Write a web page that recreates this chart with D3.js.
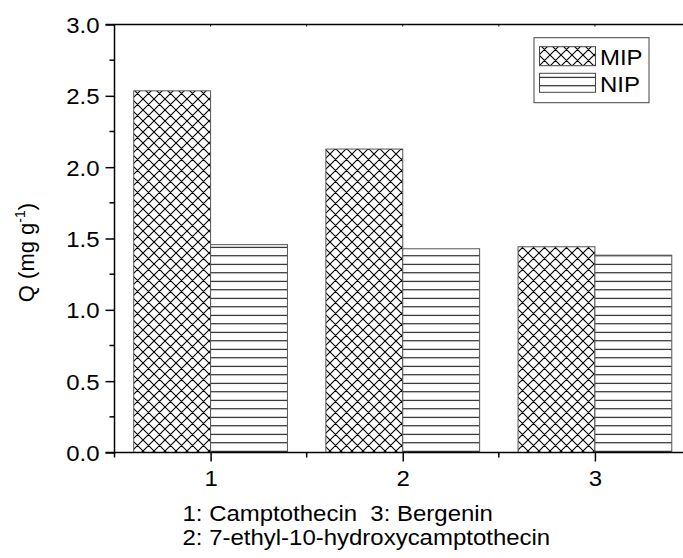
<!DOCTYPE html>
<html>
<head>
<meta charset="utf-8">
<script src="https://cdn.jsdelivr.net/npm/d3@7"></script>
<style>
  html, body { margin: 0; padding: 0; background: #fff; }
  svg { display: block; }
  text { font-family: "Liberation Sans", Arial, sans-serif; fill: #000; white-space: pre; }
</style>
</head>
<body>
<svg id="chart" width="683" height="558"></svg>
<script>
// ---- data ----
const categories = [1, 2, 3];
const seriesNames = ["MIP", "NIP"];
const mipValues = [2.535, 2.127, 1.442];
const nipValues = [1.457, 1.428, 1.383];
const yTickValues = [0.0, 0.5, 1.0, 1.5, 2.0, 2.5, 3.0];
const yTickLabels = ["0.0", "0.5", "1.0", "1.5", "2.0", "2.5", "3.0"];
const xTickLabels = ["1", "2", "3"];
const footnotes = ["1: Camptothecin  3: Bergenin", "2: 7-ethyl-10-hydroxycamptothecin"];

// ---- layout ----
const W = 683, H = 558;
const svg = d3.select("#chart");
const x = d3.scaleLinear().domain([0.5, 3.5]).range([114.5, 691]);
const y = d3.scaleLinear().domain([0, 3]).range([452.5, 24.5]);
const barW = 0.4;
const FS = 22, SX = 1.09;

// patterns
const defs = svg.append("defs");
const cross = defs.append("pattern").attr("id", "cross")
  .attr("patternUnits", "userSpaceOnUse").attr("width", 11).attr("height", 11);
cross.append("rect").attr("width", 11).attr("height", 11).attr("fill", "#fff");
cross.append("path").attr("d", "M0,0L11,11M11,0L0,11M-1,10L1,12M10,-1L12,1M-1,1L1,-1M10,12L12,10")
  .attr("stroke", "#000").attr("stroke-width", 1.1).attr("fill", "none");
const horiz = defs.append("pattern").attr("id", "horiz")
  .attr("patternUnits", "userSpaceOnUse").attr("width", 20).attr("height", 8.5)
  .attr("y", 0.3);
horiz.append("rect").attr("width", 20).attr("height", 8.5).attr("fill", "#fff");
horiz.append("line").attr("x1", 0).attr("x2", 20).attr("y1", 0.5).attr("y2", 0.5)
  .attr("stroke", "#000").attr("stroke-width", 1);
const fills = { MIP: "url(#cross)", NIP: "url(#horiz)" };

function stretchedText(g, px, py, str, anchor) {
  return g.append("text")
    .attr("transform", `translate(${px},${py}) scale(${SX},1)`)
    .attr("text-anchor", anchor || "start")
    .attr("xml:space", "preserve")
    .style("font-size", FS + "px")
    .text(str);
}

// bars
const data = [];
categories.forEach((c, i) => {
  data.push({ cat: c, s: "MIP", v: mipValues[i], x0: c - barW, x1: c });
  data.push({ cat: c, s: "NIP", v: nipValues[i], x0: c, x1: c + barW });
});
svg.append("g").selectAll("rect").data(data).join("rect")
  .attr("x", d => x(d.x0))
  .attr("width", d => x(d.x1) - x(d.x0))
  .attr("y", d => y(d.v))
  .attr("height", d => y(0) - y(d.v))
  .attr("fill", d => fills[d.s])
  .attr("stroke", "#555").attr("stroke-width", 1);

// axes
const axisG = svg.append("g");
axisG.append("line").attr("x1", x(0.5)).attr("x2", x(0.5))
  .attr("y1", y(0)).attr("y2", y(3)).attr("stroke", "#000").attr("stroke-width", 1.5);
axisG.append("line").attr("x1", x(0.5) - 9).attr("x2", W)
  .attr("y1", y(0)).attr("y2", y(0)).attr("stroke", "#000").attr("stroke-width", 1.5);
axisG.append("line").attr("x1", x(0.5) - 9).attr("x2", W)
  .attr("y1", y(3)).attr("y2", y(3)).attr("stroke", "#000").attr("stroke-width", 1.5);

// y ticks
const yAxis = d3.axisLeft(y).tickValues(yTickValues).tickSize(9)
  .tickFormat((d, i) => yTickLabels[i]).tickPadding(6);
const yg = svg.append("g").attr("transform", `translate(${x(0.5)},0)`).call(yAxis);
yg.select(".domain").remove();
yg.selectAll(".tick line").attr("stroke", "#000").attr("stroke-width", 1.5);
yg.selectAll(".tick text").remove();
yg.selectAll(".tick").each(function(d, i) {
  stretchedText(d3.select(this), -15, 8, yTickLabels[i], "end");
});
const yMinor = d3.range(0.25, 3, 0.5);
svg.append("g").selectAll("line").data(yMinor).join("line")
  .attr("x1", x(0.5) - 5).attr("x2", x(0.5))
  .attr("y1", d => y(d)).attr("y2", d => y(d))
  .attr("stroke", "#000").attr("stroke-width", 1.5);

// x ticks
const xAxis = d3.axisBottom(x).tickValues(categories).tickSize(9)
  .tickFormat((d, i) => xTickLabels[i]);
const xg = svg.append("g").attr("transform", `translate(0,${y(0)})`).call(xAxis);
xg.select(".domain").remove();
xg.selectAll(".tick line").attr("stroke", "#000").attr("stroke-width", 1.5);
xg.selectAll(".tick text").remove();
xg.selectAll(".tick").each(function(d, i) {
  stretchedText(d3.select(this), 0, 33, xTickLabels[i], "middle");
});
const xMinor = [0.5, 1.5, 2.5];
svg.append("g").selectAll("line").data(xMinor).join("line")
  .attr("x1", d => x(d)).attr("x2", d => x(d))
  .attr("y1", y(0)).attr("y2", y(0) + 5)
  .attr("stroke", "#000").attr("stroke-width", 1.5);
svg.append("g").selectAll("line").data(categories.concat(xMinor.slice(1))).join("line")
  .attr("x1", d => x(d)).attr("x2", d => x(d))
  .attr("y1", y(3)).attr("y2", y(3) + 2)
  .attr("stroke", "#000").attr("stroke-width", 1);

// y label
const yl = svg.append("text")
  .attr("transform", `translate(34,${(y(0) + y(3)) / 2 + 14}) rotate(-90)`)
  .attr("text-anchor", "middle")
  .style("font-size", FS + "px");
yl.append("tspan").text("Q (mg g");
yl.append("tspan").text("-1").style("font-size", "14px").attr("dy", -9);
yl.append("tspan").text(")").attr("dy", 9);

// legend
const lg = svg.append("g");
lg.append("rect").attr("x", 534).attr("y", 37.7).attr("width", 115).attr("height", 65)
  .attr("fill", "#fff").attr("stroke", "#444").attr("stroke-width", 1);
seriesNames.forEach((s, i) => {
  const top = 46.7 + i * 26.6;
  lg.append("rect").attr("x", 539.5).attr("y", top).attr("width", 56).attr("height", 19)
    .attr("fill", fills[s]).attr("stroke", "#444").attr("stroke-width", 1);
  stretchedText(lg, 600, top + 18.5, s, "start");
});

// footnotes
footnotes.forEach((t, i) => {
  stretchedText(svg, 182.5, 520.7 + i * 24.4, t, "start");
});
</script>
</body>
</html>
